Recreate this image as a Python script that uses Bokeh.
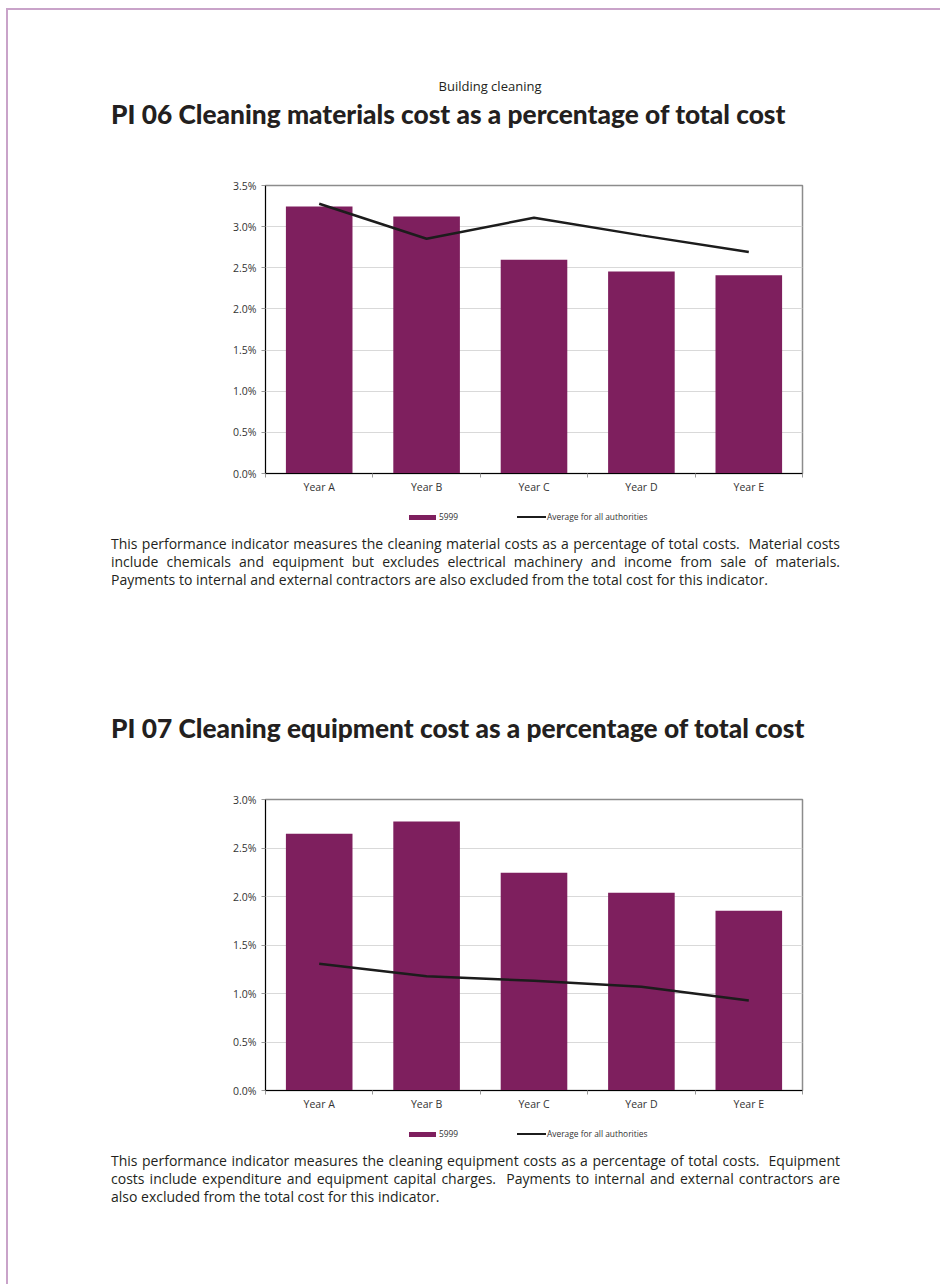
from bokeh.plotting import figure
from bokeh.layouts import column
from bokeh.models import (Div, FactorRange, Range1d, LinearAxis, FixedTicker,
                          SingleIntervalTicker, PrintfTickFormatter)
from bokeh.embed import file_html
from bokeh.resources import INLINE

# ---------------- data ----------------
categories = ["Year A", "Year B", "Year C", "Year D", "Year E"]

pi06_authority = [3.245, 3.124, 2.598, 2.456, 2.408]   # % (authority 5999)
pi06_average = [3.278, 2.853, 3.108, 2.894, 2.691]     # % (average for all authorities)
pi06_ymax = 3.5

pi07_authority = [2.646, 2.773, 2.244, 2.038, 1.852]
pi07_average = [1.306, 1.179, 1.131, 1.069, 0.928]
pi07_ymax = 3.0

series_names = ["5999", "Average for all authorities"]

page_title = "Building cleaning"
title_06 = "PI 06 Cleaning materials cost as a percentage of total cost"
title_07 = "PI 07 Cleaning equipment cost as a percentage of total cost"

para_06 = [
    "This performance indicator measures the cleaning material costs as a percentage of total costs.&nbsp; Material costs",
    "include chemicals and equipment but excludes electrical machinery and income from sale of materials.",
    "Payments to internal and external contractors are also excluded from the total cost for this indicator.",
]
para_07 = [
    "This performance indicator measures the cleaning equipment costs as a percentage of total costs.&nbsp; Equipment",
    "costs include expenditure and equipment capital charges.&nbsp; Payments to internal and external contractors are",
    "also excluded from the total cost for this indicator.",
]

BAR = "#7E1F5E"
LINE = "#1c1c1c"
TXT = "#231f20"
BODY_FONT = "Open Sans"
TITLE_FONT = "Lato"
W = 940


def header_div(height, title, title_top, sub=None, sub_top=None):
    parts = ['<div style="position:relative;width:%dpx;height:%dpx;">' % (W, height)]
    if sub:
        parts.append(
            '<div style="position:absolute;left:0;width:980px;top:%dpx;text-align:center;'
            'font-family:\'%s\';font-size:13px;line-height:16px;color:%s;">%s</div>'
            % (sub_top, BODY_FONT, TXT, sub))
    parts.append(
        '<div style="position:absolute;left:111px;top:%dpx;white-space:nowrap;'
        'font-family:%s;font-weight:900;font-size:26.3px;line-height:32px;color:%s;">%s</div>'
        % (title_top, TITLE_FONT, TXT, title))
    parts.append('</div>')
    return Div(text="".join(parts), width=W, height=height, margin=0)


def para_div(lines, height, pad_top):
    parts = ['<div style="position:relative;width:%dpx;height:%dpx;">' % (W, height)]
    for i, ln in enumerate(lines):
        last = (i == len(lines) - 1)
        parts.append(
            '<div style="position:absolute;left:111px;width:729px;top:%dpx;'
            'font-family:\'%s\';font-size:14px;line-height:18px;color:%s;'
            'text-align:justify;text-align-last:%s;white-space:nowrap;">%s</div>'
            % (pad_top + 18 * i, BODY_FONT, TXT, "left" if last else "justify", ln))
    parts.append('</div>')
    return Div(text="".join(parts), width=W, height=height, margin=0)


def legend_div(height, cy):
    lab = ('position:absolute;top:%dpx;font-family:\'%s\';font-size:8.4px;line-height:10px;'
           'color:#333333;white-space:nowrap;' % (cy - 5, BODY_FONT))
    html = (
        '<div style="position:relative;width:%dpx;height:%dpx;">' % (W, height)
        + '<div style="position:absolute;left:409px;top:%.1fpx;width:27px;height:5px;background:%s;"></div>'
        % (cy - 2.5, BAR)
        + '<div style="%sleft:439px;">%s</div>' % (lab, series_names[0])
        + '<div style="position:absolute;left:517px;top:%.1fpx;width:29px;height:2.5px;background:%s;"></div>'
        % (cy - 1.25, LINE)
        + '<div style="%sleft:547px;">%s</div>' % (lab, series_names[1])
        + '</div>')
    return Div(text=html, width=W, height=height, margin=0)


def make_chart(auth, avg, ymax, top, frame_h, bottom):
    p = figure(x_range=FactorRange(*categories, range_padding=0, factor_padding=0),
               y_range=Range1d(0, ymax),
               width=W, height=top + frame_h + bottom,
               min_border_left=265, min_border_right=W - 802,
               min_border_top=top, min_border_bottom=bottom,
               output_backend="svg", toolbar_location=None,
               tools="")
    p.border_fill_color = None
    p.background_fill_color = "white"
    p.outline_line_color = "#8c8c8c"
    p.outline_line_width = 1.5

    p.vbar(x=categories, top=auth, width=0.62, fill_color=BAR, line_color=None)
    p.line(x=categories, y=avg, line_color=LINE, line_width=2.5)

    # y axis
    ya = p.yaxis[0]
    ya.ticker = SingleIntervalTicker(interval=0.5)
    ya.formatter = PrintfTickFormatter(format="%.1f%%")
    ya.axis_line_color = "black"
    ya.axis_line_width = 1
    ya.major_tick_in = 0
    ya.major_tick_out = 4
    ya.major_tick_line_color = "#999999"
    ya.minor_tick_line_color = None
    ya.major_label_text_font = BODY_FONT
    ya.major_label_text_font_size = "10.5px"
    ya.major_label_text_color = "#333333"
    ya.major_label_standoff = 5

    p.ygrid.grid_line_color = "#d9d9d9"
    p.ygrid.grid_line_width = 1
    p.xgrid.grid_line_color = None

    # category-boundary ticks axis (nearest the frame), on the factor range's synthetic coordinates
    bounds = list(range(len(categories) + 1))
    bx = LinearAxis(ticker=FixedTicker(ticks=bounds))
    bx.major_label_overrides = {b: "" for b in bounds}
    bx.axis_line_color = "black"
    bx.axis_line_width = 1
    bx.major_tick_in = 0
    bx.major_tick_out = 4
    bx.major_tick_line_color = "#999999"
    bx.minor_tick_line_color = None
    bx.major_label_standoff = 0
    # category label axis
    xa = p.xaxis[0]
    p.below.remove(xa)
    p.add_layout(bx, "below")
    p.add_layout(xa, "below")
    xa.axis_line_color = None
    xa.major_tick_line_color = None
    xa.major_tick_out = 0
    xa.major_tick_in = 0
    xa.major_label_text_font = BODY_FONT
    xa.major_label_text_font_size = "10.5px"
    xa.major_label_text_color = "#333333"
    xa.major_label_standoff = 2
    return p


header1 = header_div(160, title_06, 98, sub=page_title, sub_top=78)
fig1 = make_chart(pi06_authority, pi06_average, pi06_ymax, 25, 288, 27)   # 160 -> 500
leg1 = legend_div(30, 17)                                                 # 500 -> 530
p1 = para_div(para_06, 70, 5)                                             # 530 -> 600
header2 = header_div(175, title_07, 112)                                  # 600 -> 775
fig2 = make_chart(pi07_authority, pi07_average, pi07_ymax, 24, 291, 27)   # 775 -> 1117
leg2 = legend_div(30, 17)                                                 # 1117 -> 1147
p2 = para_div(para_07, 1284 - 1147, 5)

border = "#c9a3c9"
page = column(header1, fig1, leg1, p1, header2, fig2, leg2, p2, spacing=0, margin=0,
              styles={
                  "background-image": "linear-gradient(%s,%s), linear-gradient(%s,%s)" % (border, border, border, border),
                  "background-size": "2px 100%, 100% 2px",
                  "background-position": "6px 8px, 6px 8px",
                  "background-repeat": "no-repeat",
                  "background-color": "white",
              })

open("out.html", "w").write(file_html(page, INLINE))
